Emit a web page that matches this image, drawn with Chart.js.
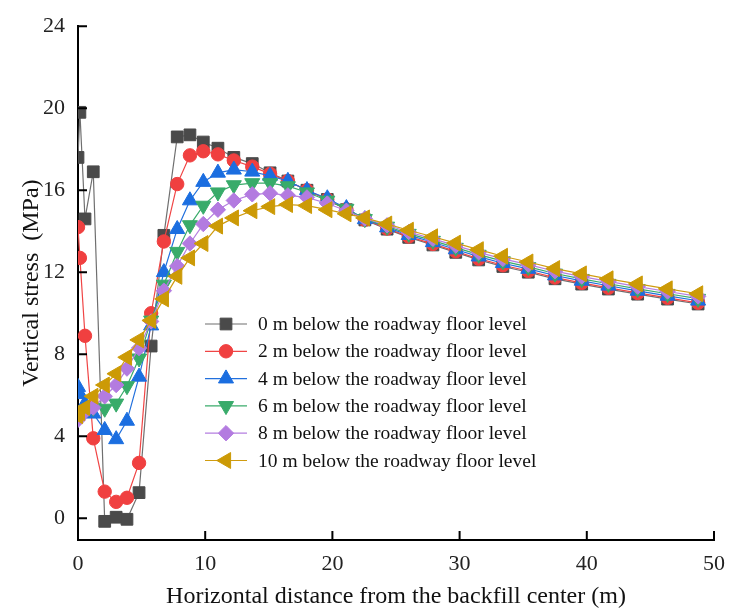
<!DOCTYPE html>
<html>
<head>
<meta charset="utf-8">
<script src="https://cdn.jsdelivr.net/npm/chart.js@4.4.1/dist/chart.umd.min.js"></script>
<style>
  body { margin: 0; background: #fff; }
  #wrap { width: 729px; height: 609px; }
</style>
</head>
<body>
<div id="wrap"><canvas id="chart" width="729" height="609"></canvas></div>
<script>
// horizontal distance from the backfill center (m)
const distance = [0, 0.15, 0.55, 1.2, 2.1, 3.0, 3.85, 4.8, 5.75, 6.75, 7.8, 8.8, 9.85, 11.0, 12.25, 13.7, 15.1, 16.5,
  18.0, 19.6, 21.1, 22.55, 24.3, 26.0, 27.9, 29.7, 31.5, 33.4, 35.4, 37.5, 39.6, 41.7, 44.0, 46.35, 48.75];

// vertical stress (MPa) for each depth below the roadway floor
const stress0m = [17.6, 19.8, 14.6, 16.9, -0.15, 0.05, -0.05, 1.25, 8.4, 13.8, 18.6, 18.7, 18.35, 18.05, 17.6, 17.3, 16.85, 16.45,
  16.0, 15.55, 15.05, 14.55, 14.1, 13.7, 13.33, 12.97, 12.6, 12.28, 12.0, 11.68, 11.42, 11.18, 10.93, 10.69, 10.45];
const stress2m = [14.2, 12.7, 8.9, 3.9, 1.3, 0.8, 1.0, 2.7, 10.0, 13.5, 16.3, 17.7, 17.9, 17.75, 17.45, 17.15, 16.8, 16.45,
  16.0, 15.55, 15.07, 14.56, 14.13, 13.74, 13.38, 13.02, 12.66, 12.34, 12.06, 11.74, 11.48, 11.24, 10.99, 10.75, 10.51];
const stress4m = [6.4, 6.05, 5.6, 5.1, 4.3, 3.85, 4.75, 6.9, 9.4, 12.0, 14.1, 15.5, 16.4, 16.85, 17.0, 16.9, 16.7, 16.45,
  16.0, 15.6, 15.12, 14.58, 14.18, 13.81, 13.46, 13.11, 12.76, 12.44, 12.16, 11.84, 11.58, 11.34, 11.09, 10.85, 10.61];
const stress6m = [5.0, 5.1, 5.25, 5.4, 5.35, 5.6, 6.45, 7.8, 9.65, 11.4, 13.0, 14.3, 15.25, 15.9, 16.25, 16.35, 16.35, 16.2,
  15.9, 15.5, 15.1, 14.6, 14.23, 13.88, 13.54, 13.2, 12.86, 12.54, 12.26, 11.94, 11.68, 11.44, 11.19, 10.95, 10.71];
const stress8m = [4.8, 5.0, 5.2, 5.4, 5.95, 6.5, 7.3, 8.3, 9.6, 11.1, 12.3, 13.4, 14.35, 15.05, 15.5, 15.8, 15.85, 15.75,
  15.65, 15.35, 15.0, 14.62, 14.29, 13.96, 13.63, 13.3, 12.97, 12.65, 12.37, 12.05, 11.79, 11.55, 11.3, 11.06, 10.82];
const stress10m = [5.0, 5.15, 5.4, 5.95, 6.5, 7.05, 7.85, 8.7, 9.65, 10.7, 11.8, 12.7, 13.4, 14.25, 14.65, 15.0, 15.2, 15.3,
  15.25, 15.05, 14.85, 14.65, 14.35, 14.05, 13.73, 13.42, 13.1, 12.78, 12.5, 12.18, 11.92, 11.68, 11.43, 11.19, 10.95];

const seriesLabels = [
  '0 m below the roadway floor level',
  '2 m below the roadway floor level',
  '4 m below the roadway floor level',
  '6 m below the roadway floor level',
  '8 m below the roadway floor level',
  '10 m below the roadway floor level'
];
const xTicks = [0, 10, 20, 30, 40, 50];
const yTicks = [0, 4, 8, 12, 16, 20, 24];

const allStress = [stress0m, stress2m, stress4m, stress6m, stress8m, stress10m];

// marker look for each series
const looks = [
  { line: '#6f6f6f', fill: '#4a4a4a', style: 'rect', rotation: 0, radius: 8.3 },
  { line: '#f04545', fill: '#f04040', style: 'circle', rotation: 0, radius: 6.7 },
  { line: '#2270dd', fill: '#1b6ee0', style: 'triangle', rotation: 0, radius: 8.7 },
  { line: '#3aab6b', fill: '#38ab6a', style: 'triangle', rotation: 180, radius: 8.7 },
  { line: '#b47ee0', fill: '#b37be0', style: 'rectRot', rotation: 0, radius: 7.7 },
  { line: '#d09c10', fill: '#cc9a06', style: 'triangle', rotation: 270, radius: 9.2 }
];

const serif = "'Liberation Serif', 'Times New Roman', serif";

const datasets = allStress.map((values, i) => ({
  label: seriesLabels[i],
  data: distance.map((d, k) => ({ x: d, y: values[k] })),
  borderColor: looks[i].line,
  borderWidth: 1.2,
  pointStyle: looks[i].style,
  pointRotation: looks[i].rotation,
  pointRadius: looks[i].radius,
  pointBackgroundColor: looks[i].fill,
  pointBorderColor: looks[i].fill,
  pointBorderWidth: 1,
  showLine: true,
  tension: 0,
  order: allStress.length - 1 - i
}));

// ticks pointing into the plot, like the original figure
const inwardTicks = {
  id: 'inwardTicks',
  afterDraw(chart) {
    const ctx = chart.ctx;
    const sx = chart.scales.x;
    const sy = chart.scales.y;
    ctx.save();
    ctx.strokeStyle = '#000';
    ctx.lineWidth = 2;
    ctx.beginPath();
    xTicks.forEach(v => {
      if (v === 0) return;
      const px = sx.getPixelForValue(v);
      ctx.moveTo(px, sy.bottom);
      ctx.lineTo(px, sy.bottom - 9);
    });
    yTicks.forEach(v => {
      const py = sy.getPixelForValue(v);
      ctx.moveTo(sx.left, py);
      ctx.lineTo(sx.left + 9, py);
    });
    ctx.stroke();
    ctx.restore();
  }
};

// legend drawn inside the plot: short line + marker + text
const innerLegend = {
  id: 'innerLegend',
  afterDraw(chart) {
    const ctx = chart.ctx;
    const left = 205, lineLen = 42, top = 324, step = 27.3;
    ctx.save();
    ctx.font = '19.5px ' + serif;
    ctx.textBaseline = 'middle';
    seriesLabels.forEach((text, i) => {
      const y = top + i * step;
      ctx.strokeStyle = looks[i].line;
      ctx.lineWidth = 1.2;
      ctx.beginPath();
      ctx.moveTo(left, y);
      ctx.lineTo(left + lineLen, y);
      ctx.stroke();
      ctx.fillStyle = looks[i].fill;
      ctx.strokeStyle = looks[i].fill;
      ctx.lineWidth = 1;
      Chart.helpers.drawPoint(ctx, {
        pointStyle: looks[i].style,
        rotation: looks[i].rotation,
        radius: looks[i].radius,
        borderWidth: 1
      }, left + lineLen / 2, y);
      ctx.fillStyle = '#111';
      ctx.fillText(text, left + lineLen + 11, y + 1);
    });
    ctx.restore();
  }
};

new Chart(document.getElementById('chart'), {
  type: 'scatter',
  data: { datasets: datasets },
  options: {
    responsive: false,
    animation: false,
    devicePixelRatio: 1,
    layout: { padding: { top: 22, right: 15, left: 0, bottom: 0 } },
    plugins: {
      legend: { display: false },
      tooltip: { enabled: false }
    },
    scales: {
      x: {
        type: 'linear',
        min: 0,
        max: 50,
        afterBuildTicks: scale => { scale.ticks = xTicks.map(v => ({ value: v })); },
        afterFit: scale => { scale.height = 69; scale.paddingRight = 0; },
        grid: { display: false, drawTicks: false },
        border: { display: true, color: '#000', width: 2 },
        ticks: { color: '#222', font: { family: serif, size: 22 }, padding: 11, maxRotation: 0 },
        title: {
          display: true,
          text: 'Horizontal distance from the backfill center (m)',
          color: '#111',
          font: { family: serif, size: 24, lineHeight: 1 },
          padding: { top: 0, bottom: 0 }
        }
      },
      y: {
        type: 'linear',
        min: -1.06,
        max: 24,
        afterBuildTicks: scale => { scale.ticks = yTicks.map(v => ({ value: v })); },
        afterFit: scale => { scale.width = 78; },
        grid: { display: false, drawTicks: false },
        border: { display: true, color: '#000', width: 2 },
        ticks: { color: '#222', font: { family: serif, size: 22 }, padding: 13 },
        title: {
          display: true,
          text: 'Vertical stress  (MPa)',
          color: '#111',
          font: { family: serif, size: 24 },
          padding: { top: 17, bottom: 0 }
        }
      }
    }
  },
  plugins: [inwardTicks, innerLegend]
});
</script>
</body>
</html>
